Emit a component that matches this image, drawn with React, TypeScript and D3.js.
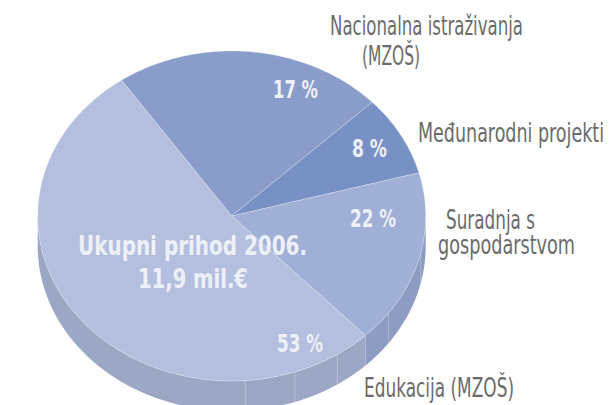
import React from "react";
import * as d3 from "d3";

// Slice order: clockwise from the top-left boundary
const sliceNames = [
  "Nacionalna istraživanja (MZOŠ)",
  "Međunarodni projekti",
  "Suradnja s gospodarstvom",
  "Edukacija (MZOŠ)",
];
// angular shares as drawn in the picture
const sliceShares = [22.5, 7.9, 17.1, 52.5];
// printed percentage labels
const percentLabels = ["17 %", "8 %", "22 %", "53 %"];
const centerTitle = ["Ukupni prihod 2006.", "11,9 mil.€"];

const topColors = ["#899cca", "#7891c5", "#9fafd6", "#b4bfdf"];
const sideColors = ["#7d8fbb", "#6f84b6", "#8e9cc3", "#9ca7c5"];

const W = 612;
const H = 405;
const cx = 231.7;
const cy = 216;
const rx = 194;
const ry = 165;
const depth = 30;
const startDeg = -34.6;

const rad = (d: number) => (d * Math.PI) / 180;

function pt(a: number, dz = 0): [number, number] {
  return [cx + rx * Math.sin(a), cy - ry * Math.cos(a) + dz];
}

function arcPts(a0: number, a1: number, dz = 0): [number, number][] {
  const n = Math.max(2, Math.ceil(Math.abs(a1 - a0) / rad(1)));
  const out: [number, number][] = [];
  for (let i = 0; i <= n; i++) out.push(pt(a0 + ((a1 - a0) * i) / n, dz));
  return out;
}

const line = d3.line();

export default function App() {
  const pie = d3
    .pie<number>()
    .sort(null)
    .value((d) => d)
    .startAngle(rad(startDeg))
    .endAngle(rad(startDeg) + 2 * Math.PI);
  const arcs = pie(sliceShares);

  const sides = arcs
    .map((a, i) => {
      const s = Math.max(a.startAngle, Math.PI / 2);
      const e = Math.min(a.endAngle, (3 * Math.PI) / 2);
      if (s >= e) return null;
      const pts = [...arcPts(s, e, 0), ...arcPts(e, s, depth)];
      return { i, d: line(pts) + "Z" };
    })
    .filter(Boolean) as { i: number; d: string }[];

  const tops = arcs.map((a, i) => {
    const pts: [number, number][] = [[cx, cy], ...arcPts(a.startAngle, a.endAngle, 0)];
    return { i, d: line(pts) + "Z" };
  });

  const facetDegs = [103, 126, 147, 161, 176];

  // label layout (annotation positions)
  const pctPos: [number, number][] = [
    [295.5, 98],
    [369.5, 157],
    [373, 227],
    [300, 352],
  ];
  const pctWidths = [45, 35, 46, 46];

  const outer = [
    { t: "Nacionalna istraživanja", x: 330, y: 35, w: 193 },
    { t: "(MZOŠ)", x: 362, y: 65, w: 58 },
    { t: "Međunarodni projekti", x: 418, y: 142, w: 186 },
    { t: "Suradnja s", x: 446, y: 229, w: 89 },
    { t: "gospodarstvom", x: 438, y: 254, w: 137 },
    { t: "Edukacija (MZOŠ)", x: 364, y: 397, w: 150 },
  ];

  return (
    <svg
      width={W}
      height={H}
      viewBox={`0 0 ${W} ${H}`}
      style={{ position: "absolute", left: 0, top: 0, background: "#fff" }}
    >
      <g>
        {sides.map((s) => (
          <path key={"s" + s.i} d={s.d} fill={sideColors[s.i]} />
        ))}
        {facetDegs.map((dg, k) => {
          const [x0, y0] = pt(rad(dg), 0);
          const [x1, y1] = pt(rad(dg), depth);
          return (
            <line
              key={"f" + k}
              x1={x0}
              y1={y0}
              x2={x1}
              y2={y1}
              stroke="#ffffff"
              strokeOpacity={0.35}
              strokeWidth={0.8}
            />
          );
        })}
        {tops.map((t) => (
          <path
            key={"t" + t.i}
            d={t.d}
            fill={topColors[t.i]}
            stroke="#ffffff"
            strokeOpacity={0.35}
            strokeWidth={0.7}
          />
        ))}
      </g>
      <g
        fontFamily="'DejaVu Sans Condensed', 'DejaVu Sans', sans-serif"
        fontWeight="bold"
        fill="#eef0f7"
      >
        {percentLabels.map((l, i) => (
          <text
            key={"p" + i}
            x={pctPos[i][0] - pctWidths[i] / 2}
            y={pctPos[i][1]}
            fontSize={24}
            textLength={pctWidths[i]}
            lengthAdjust="spacingAndGlyphs"
          >
            {l}
          </text>
        ))}
        <text x={78} y={255} fontSize={26} textLength={229} lengthAdjust="spacingAndGlyphs">
          {centerTitle[0]}
        </text>
        <text x={138} y={288} fontSize={26} textLength={110} lengthAdjust="spacingAndGlyphs">
          {centerTitle[1]}
        </text>
      </g>
      <g fontFamily="'DejaVu Sans Condensed', 'DejaVu Sans', sans-serif" fill="#6b6b6b">
        {outer.map((o, i) => (
          <text
            key={"o" + i}
            x={o.x}
            y={o.y}
            fontSize={26}
            textLength={o.w}
            lengthAdjust="spacingAndGlyphs"
          >
            {o.t}
          </text>
        ))}
      </g>
    </svg>
  );
}
